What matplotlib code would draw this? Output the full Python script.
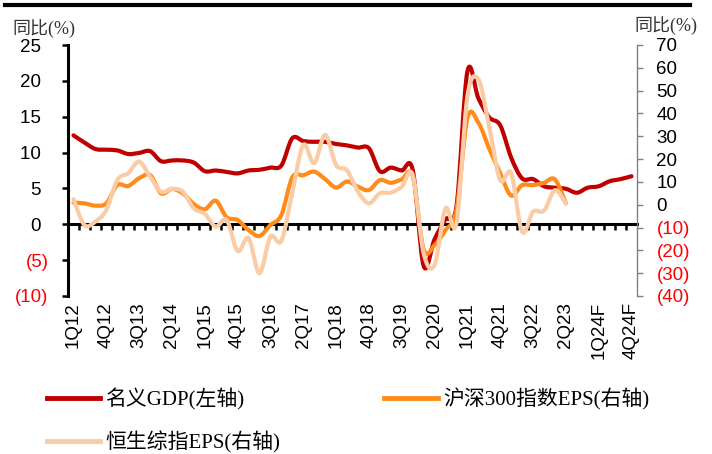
import numpy as np
import matplotlib
matplotlib.use("Agg")
import matplotlib.pyplot as plt
from matplotlib.path import Path
from matplotlib.patches import PathPatch
from matplotlib.lines import Line2D

plt.rcParams['font.family'] = ['Liberation Sans', 'Noto Sans CJK SC']

# quarterly labels 1Q12 .. 4Q24F
quarters = [f"{q}Q{y}" for y in range(12, 25) for q in range(1, 5)]
quarters = [s + "F" if s.endswith("24") else s for s in quarters]

# nominal GDP yoy (%), left axis
gdp = [12.4, 11.4, 10.5, 10.4, 10.3, 9.8, 9.95, 10.2, 8.8, 8.9, 8.9, 8.6,
       7.4, 7.5, 7.3, 7.1, 7.5, 7.6, 7.9, 8.2, 12.0, 11.6, 11.5, 11.5,
       11.2, 11.0, 10.7, 10.6, 7.4, 7.9, 7.5, 7.6, -5.8, -2.1, 0.7, 2.5,
       21.3, 17.6, 14.9, 13.8, 9.3, 6.4, 6.3, 5.3, 5.1, 4.95, 4.4, 5.1,
       5.3, 6.0, 6.3, 6.7]
# CSI 300 EPS yoy (%), right axis
hs300_eps = [0.9, 0.6, -0.4, 0.6, 8.6, 8.2, 11.6, 13.0, 5.0, 6.9, 5.0, 0.3,
             -2.0, 1.75, -5.5, -6.7, -11.1, -13.7, -8.9, -4.5, 12.0, 12.9, 14.5, 11.2,
             7.5, 10.2, 7.9, 6.4, 10.8, 9.6, 11.1, 12.6, -19.5, -17.7, -11.1, -2.3,
             38.0, 36.0, 24.5, 13.8, 4.0, 8.6, 8.6, 9.6, 11.1, 0.6]
# Hang Seng Composite EPS yoy (%), right axis
hsci_eps = [2.4, -8.9, -7.4, -2.3, 10.8, 13.8, 18.9, 12.3, 5.7, 7.0, 5.7, -1.6,
            -4.0, -9.6, -6.7, -20.3, -14.7, -30.0, -14.0, -15.8, 5.3, 26.2, 18.2, 30.6,
            17.4, 15.0, 5.7, 0.6, 5.0, 5.3, 7.9, 13.0, -21.3, -26.4, -1.6, -8.2,
            47.4, 55.0, 34.0, 10.8, 13.8, -11.8, -3.1, -2.6, 6.4, 0.6]

RED = '#C00000'
ORANGE = '#FF8C1A'
PEACH = '#FACCA6'
NEG = '#FF0000'


def smooth_path(y):
    """Smoothed polyline (Catmull-Rom style bezier) through the quarterly points."""
    pts = np.column_stack([np.arange(len(y)), np.asarray(y, float)])
    verts, codes = [pts[0]], [Path.MOVETO]
    n = len(pts)
    for i in range(n - 1):
        p0 = pts[i - 1] if i > 0 else pts[i]
        p1, p2 = pts[i], pts[i + 1]
        p3 = pts[i + 2] if i + 2 < n else pts[i + 1]
        verts += [p1 + (p2 - p0) / 6, p2 - (p3 - p1) / 6, p2]
        codes += [Path.CURVE4] * 3
    return Path(verts, codes)


def paren(v, pad=False):
    if v < 0:
        return f"({abs(v):.0f})"
    return f"{v:.0f}" + ("\u2009\u2009" if pad else "")


fig = plt.figure(figsize=(7.12, 4.54), dpi=100)
ax = fig.add_axes([68 / 712, 1 - 296 / 454, (637 - 68) / 712, (296 - 45) / 454])
ax2 = ax.twinx()

ax.set_xlim(-0.5, len(quarters) - 0.5)
ax.set_ylim(-10, 25)
ax2.set_ylim(-40, 70)

# lines
ax.add_patch(PathPatch(smooth_path(gdp), facecolor='none', edgecolor=RED,
                       lw=3, joinstyle='round', capstyle='round', zorder=3))
ax2.add_patch(PathPatch(smooth_path(hs300_eps), facecolor='none', edgecolor=ORANGE,
                        lw=3, joinstyle='round', capstyle='round', zorder=3))
ax2.add_patch(PathPatch(smooth_path(hsci_eps), facecolor='none', edgecolor=PEACH,
                        lw=3, joinstyle='round', capstyle='round', zorder=4))

# left axis
lticks = np.arange(-10, 26, 5)
ax.set_yticks(lticks)
ax.set_yticklabels([paren(v, pad=True) for v in lticks])
ax.tick_params(axis='y', direction='out', length=4, width=1.8, pad=10,
               labelsize=13.5, colors='black')
for lab, v in zip(ax.get_yticklabels(), lticks):
    lab.set_color(NEG if v < 0 else 'black')
ax.spines['left'].set_linewidth(2.2)
ax.spines['top'].set_visible(False)
ax.spines['right'].set_visible(False)

# x axis sits on zero of the left axis
ax.spines['bottom'].set_position(('data', 0))
ax.spines['bottom'].set_linewidth(2.2)
ax.set_xticks(np.arange(0, len(quarters), 3))
ax.set_xticklabels(quarters[::3], rotation=90, fontsize=13.5)
ax.set_xticks(np.arange(0.5, len(quarters) - 1, 1), minor=True)
ax.tick_params(axis='x', which='major', length=0, pad=56)
ax.tick_params(axis='x', which='minor', direction='out', length=4, width=1.8)

# right axis
rticks = np.arange(-40, 71, 10)
ax2.set_yticks(rticks)
ax2.set_yticklabels([paren(v) for v in rticks])
ax2.tick_params(axis='y', direction='out', length=4, width=1, color='#808080',
                pad=10, labelsize=13.5)
for lab, v in zip(ax2.get_yticklabels(), rticks):
    lab.set_color(NEG if v < 0 else 'black')
for side in ('top', 'bottom', 'left'):
    ax2.spines[side].set_visible(False)
ax2.spines['right'].set_color('#808080')
ax2.spines['right'].set_linewidth(1)

# axis captions
serif_cjk = ['Liberation Serif', 'Noto Sans CJK SC']
fig.text(12 / 712, 1 - 29 / 454, '同比(%)', family=serif_cjk, fontsize=13,
         color='#333333', ha='left', va='center')
fig.text(697 / 712, 1 - 26 / 454, '同比(%)', family=serif_cjk, fontsize=13,
         color='#333333', ha='right', va='center')

# top rule
fig.add_artist(Line2D([5 / 712, 690 / 712], [1 - 5 / 454, 1 - 5 / 454],
                      transform=fig.transFigure, color='black', lw=3))

# legend
handles = [Line2D([], [], color=RED, lw=3.5),
           Line2D([], [], color=PEACH, lw=3.5),
           Line2D([], [], color=ORANGE, lw=3.5)]
labels = ['名义GDP(左轴)', '恒生综指EPS(右轴)', '沪深300指数EPS(右轴)']
fig.legend(handles, labels, loc='upper left', bbox_to_anchor=(47 / 712, 1 - 388 / 454),
           ncol=2, frameon=False, prop={'family': serif_cjk, 'size': 15},
           handlelength=2.55, handletextpad=0.25, columnspacing=5.0,
           labelspacing=1.0, borderpad=0, borderaxespad=0)

fig.savefig('out.png', dpi=100)
